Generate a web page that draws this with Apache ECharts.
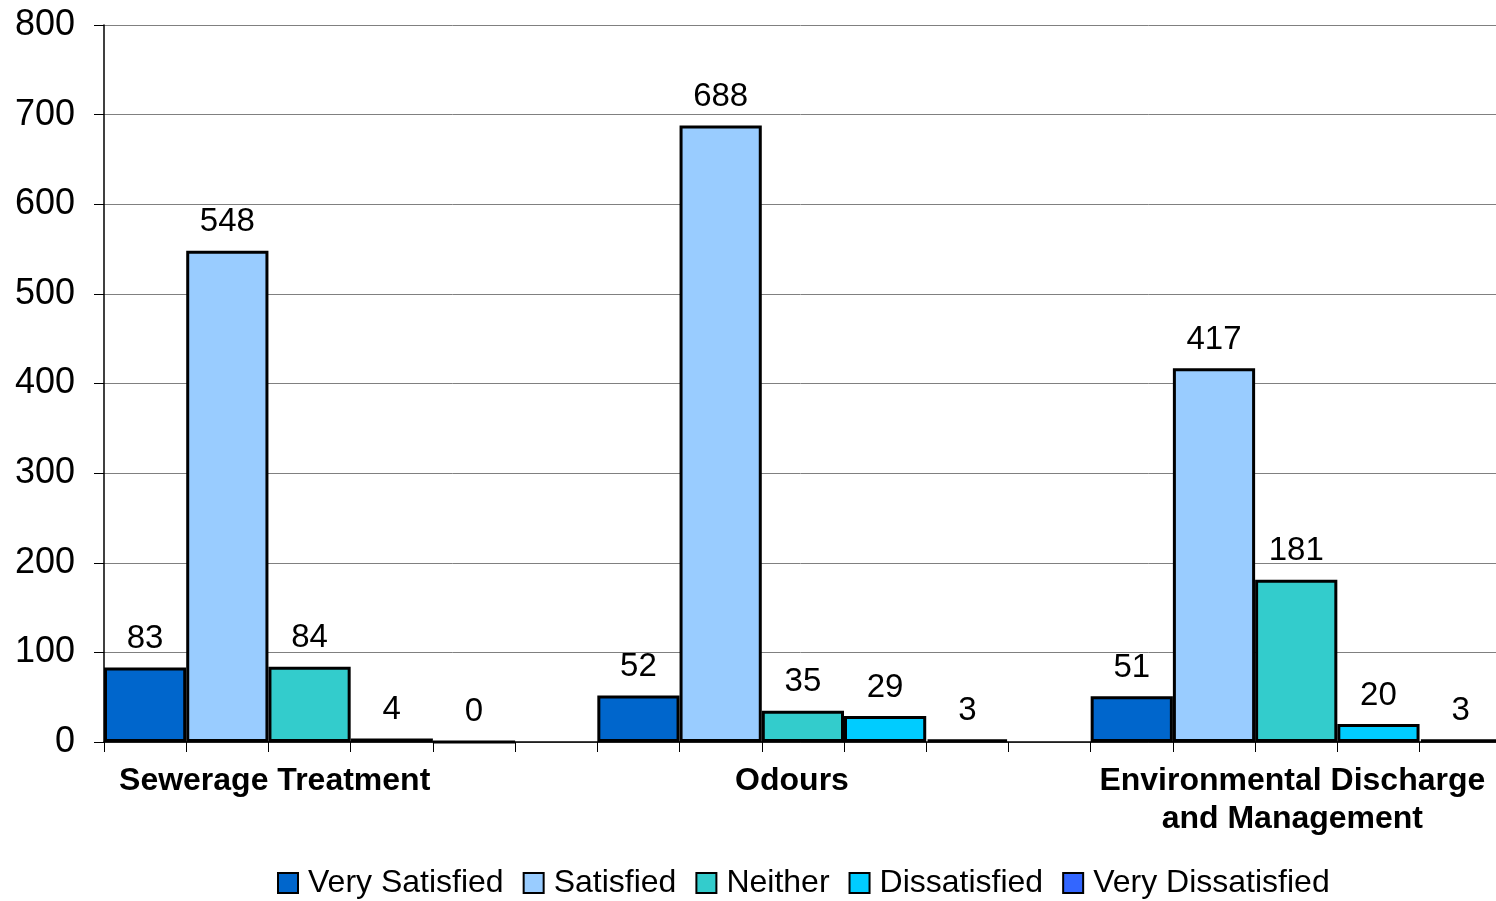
<!DOCTYPE html>
<html>
<head>
<meta charset="utf-8">
<title>Satisfaction by service area</title>
<script src="https://cdn.jsdelivr.net/npm/echarts@6/dist/echarts.min.js"></script>
<style>
  html, body { margin: 0; padding: 0; background: #ffffff; }
  #chart { width: 1496px; height: 901px; }
</style>
</head>
<body>
<div id="chart"></div>
<script>
// Service areas along the x axis
const categories = ['Sewerage Treatment', 'Odours', 'Environmental Discharge\nand Management'];

// Response counts per satisfaction level
const seriesNames = ['Very Satisfied', 'Satisfied', 'Neither', 'Dissatisfied', 'Very Dissatisfied'];
const verySatisfied = [83, 52, 51];
const satisfied = [548, 688, 417];
const neither = [84, 35, 181];
const dissatisfied = [4, 29, 20];
const veryDissatisfied = [0, 3, 3];

// Value axis ticks
const yTicks = [0, 100, 200, 300, 400, 500, 600, 700, 800];

const seriesValues = [verySatisfied, satisfied, neither, dissatisfied, veryDissatisfied];
const colors = ['#0066CC', '#99CCFF', '#33CCCC', '#00CCFF', '#3366FF'];

// Horizontal nudge (px, leftwards) for each category caption
const captionShift = [76, 52, 45];

const FONT = '"Liberation Sans", Arial, sans-serif';

const chart = echarts.init(document.getElementById('chart'), null, { renderer: 'canvas' });

// Each category holds five bars plus one empty slot; the slot axis marks every bar boundary.
const slotsPerCategory = seriesNames.length + 1;
const slotTicks = new Array(categories.length * slotsPerCategory).fill('');

// The plot runs past the right edge of the canvas, so outer-bounds fitting is switched off.
const gridBox = { left: 104, top: 25, width: 1480, height: 717, outerBoundsMode: 'none', containLabel: false };

const series = seriesNames.map((name, i) => ({
  name,
  type: 'bar',
  xAxisIndex: 0,
  yAxisIndex: 0,
  data: seriesValues[i],
  barGap: '0%',
  barCategoryGap: '0%',
  itemStyle: { color: colors[i], borderColor: '#000000', borderWidth: 3 },
  label: {
    show: true,
    position: 'top',
    distance: 12,
    color: '#000000',
    fontFamily: FONT,
    fontSize: 33
  },
  emphasis: { disabled: true }
}));

// Empty spacer series occupying the sixth slot of each category
series.push({
  name: 'spacer',
  type: 'bar',
  xAxisIndex: 0,
  yAxisIndex: 0,
  data: categories.map(() => null),
  barGap: '0%',
  barCategoryGap: '0%',
  silent: true
});

const option = {
  animation: false,
  backgroundColor: '#ffffff',
  grid: [
    Object.assign({}, gridBox),
    Object.assign({}, gridBox)
  ],
  legend: {
    data: seriesNames,
    left: 277,
    top: 867,
    padding: 0,
    itemWidth: 20,
    itemHeight: 20,
    itemGap: 19,
    icon: 'rect',
    selectedMode: false,
    textStyle: {
      fontFamily: FONT,
      fontSize: 32,
      color: '#000000',
      padding: [0, 0, 0, 5]
    }
  },
  xAxis: [
    {
      type: 'category',
      gridIndex: 0,
      data: categories.map((c, i) => ({
        value: c,
        textStyle: { padding: [0, captionShift[i] * 2, 0, 0] }
      })),
      axisLine: { show: true, lineStyle: { color: '#000000', width: 1.5 } },
      axisTick: { show: false },
      axisLabel: {
        interval: 0,
        margin: 20,
        color: '#000000',
        fontFamily: FONT,
        fontWeight: 'bold',
        fontSize: 32,
        lineHeight: 38
      },
      splitLine: { show: false }
    },
    {
      type: 'category',
      gridIndex: 1,
      data: slotTicks,
      boundaryGap: true,
      axisLine: { show: false },
      axisLabel: { show: false },
      axisTick: { show: true, interval: 0, length: 10, lineStyle: { color: '#000000', width: 1 } },
      splitLine: { show: false }
    }
  ],
  yAxis: [
    {
      type: 'value',
      gridIndex: 0,
      min: yTicks[0],
      max: yTicks[yTicks.length - 1],
      interval: yTicks[1] - yTicks[0],
      axisLine: { show: true, lineStyle: { color: '#000000', width: 1.5 } },
      axisTick: { show: true, length: 10, lineStyle: { color: '#000000' } },
      axisLabel: {
        margin: 29,
        color: '#000000',
        fontFamily: FONT,
        fontSize: 36
      },
      splitLine: { show: true, lineStyle: { color: '#808080', width: 1 } }
    },
    {
      type: 'value',
      gridIndex: 1,
      show: false
    }
  ],
  series
};

chart.setOption(option);
</script>
</body>
</html>
